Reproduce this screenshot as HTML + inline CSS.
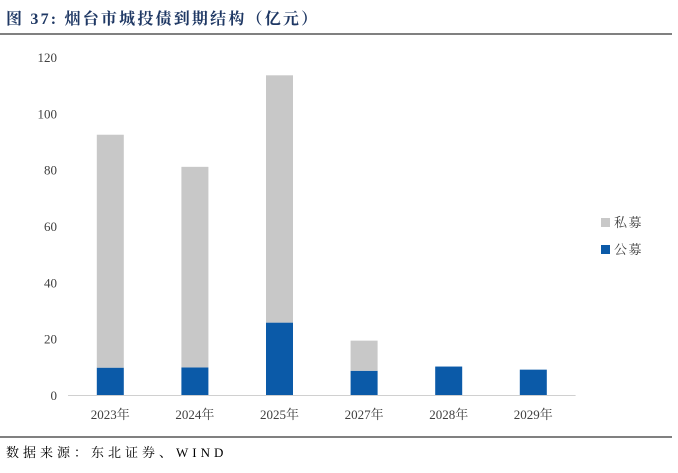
<!DOCTYPE html>
<html><head><meta charset="utf-8"><style>
body{margin:0;background:#fff;font-family:"Liberation Serif","Noto Serif CJK SC","Noto Sans CJK SC",serif;}
#wrap{position:relative;width:678px;height:473px;overflow:hidden;}
</style></head><body>
<div id="wrap">
<svg id="chart" width="678" height="473">
<text x="6" y="24" font-size="16" font-weight="bold" fill="#1f3864" letter-spacing="2.2" font-family="Liberation Serif, Noto Serif CJK SC, serif">图 37:  烟台市城投债到期结构（亿元）</text>
<line x1="0" y1="34" x2="672" y2="34" stroke="#000" stroke-width="1"/>
<line x1="0" y1="437" x2="672" y2="437" stroke="#000" stroke-width="1"/>
<text x="6" y="457" font-size="13" fill="#000" letter-spacing="4">数据来源：东北证券、WIND</text>
<g id="plot"></g>
<rect x="601" y="218" width="9" height="9" fill="#c8c8c8"/>
<text x="614" y="227" font-size="13" fill="#404040" letter-spacing="1.5">私募</text>
<rect x="601" y="245" width="9" height="9" fill="#0b5aa8"/>
<text x="614" y="254" font-size="13" fill="#404040" letter-spacing="1.5">公募</text>
</svg>
</div>
<script>
const categories=["2023年","2024年","2025年","2027年","2028年","2029年"];
const publicVals=[9.7,9.8,25.7,8.6,10.1,9.0];
const privateVals=[82.7,71.2,87.8,10.7,0,0];
const yTicks=[0,20,40,60,80,100,120];
const NS="http://www.w3.org/2000/svg";
const g=document.getElementById('plot');
const y0=395,yTop=57,yMax=120,x0=68,step=84.6,bw=27;
function yS(v){return y0-(v/yMax)*(y0-yTop);}
function xC(i){return x0+step*(i+0.5);}
function mk(t,a){const e=document.createElementNS(NS,t);for(const k in a)e.setAttribute(k,a[k]);g.appendChild(e);return e;}
yTicks.forEach(v=>{
  const t=mk('text',{x:57,y:yS(v)+5,'font-size':13,'text-anchor':'end',fill:'#404040'});
  t.textContent=v;
  
  
});
categories.forEach((c,i)=>{
  const cx=xC(i);
  const pb=mk('rect',{x:cx-bw/2,y:yS(publicVals[i]),width:bw,height:y0-yS(publicVals[i]),fill:'#0b5aa8'});
  
  
  if(privateVals[i]>0){
    const top=yS(publicVals[i]+privateVals[i]);
    const rb=mk('rect',{x:cx-bw/2,y:top,width:bw,height:yS(publicVals[i])-top,fill:'#c8c8c8'});
    
    
  }
  const t=mk('text',{x:cx,y:419,'font-size':13,'text-anchor':'middle',fill:'#404040'});
  t.textContent=c;
  
  
});
const ax=mk('line',{x1:x0,y1:y0+0.5,x2:x0+step*6,y2:y0+0.5,stroke:'#d0d0d0','stroke-width':1});


</script>
</body></html>
